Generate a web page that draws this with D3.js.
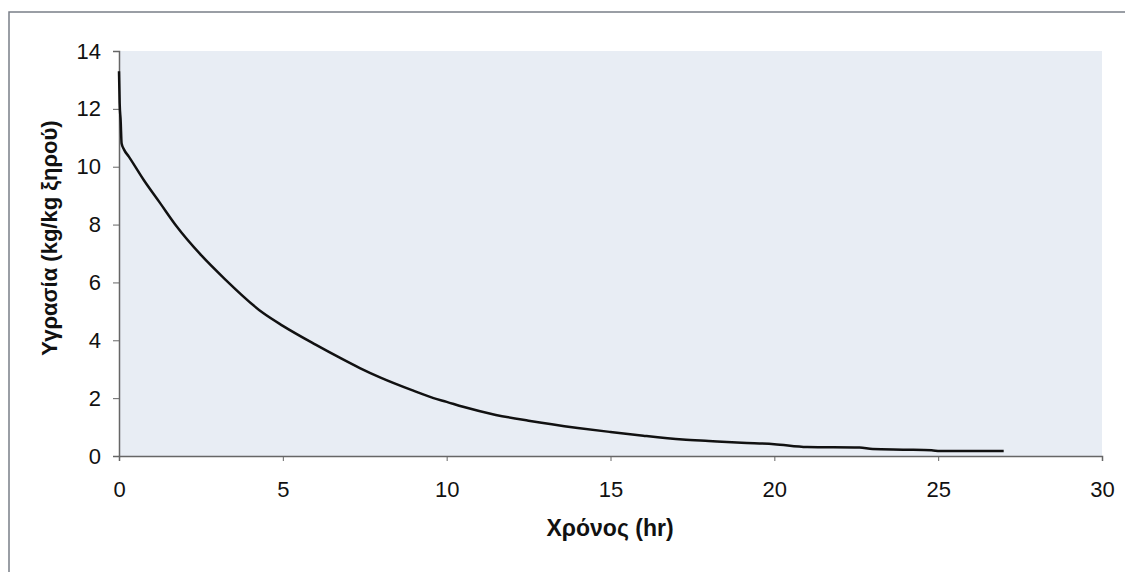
<!DOCTYPE html>
<html>
<head>
<meta charset="utf-8">
<script src="https://cdn.jsdelivr.net/npm/d3@7"></script>
<style>
    body { margin: 0; background: #fff; }
    .tick text { font-family: "Liberation Sans", Arial, sans-serif; font-size: 22px; fill: #111; }
    .axis path, .axis line { stroke: #666; }
    .title { font-family: "Liberation Sans", Arial, sans-serif; font-weight: bold; fill: #111; }
</style>
</head>
<body>
<div id="chart"></div>
<script>
// time (hr) and moisture (kg/kg dry basis)
const hours = [0, 0.02, 0.05, 0.08, 0.15, 0.3, 0.75, 1.25, 1.75, 2.5, 3.2, 4.4, 5, 6, 6.75, 7.35, 8, 9, 9.6, 10,
    10.5, 11.5, 12.5, 14, 15, 16, 17.2, 18, 19, 20, 21, 22.6, 23, 24, 24.8, 25.05, 26, 27]
const moisture = [13.3, 12.2, 11.6, 10.8, 10.6, 10.35, 9.55, 8.75, 7.95, 6.95, 6.15, 4.94, 4.5, 3.85, 3.39, 3.04, 2.7, 2.25, 2.0, 1.87,
    1.7, 1.42, 1.22, 0.97, 0.83, 0.7, 0.57, 0.52, 0.46, 0.41, 0.31, 0.29, 0.24, 0.22, 0.2, 0.17, 0.17, 0.17]
const xTicks = [0, 5, 10, 15, 20, 25, 30]
const yTicks = [0, 2, 4, 6, 8, 10, 12, 14]

const W = 1125, H = 572
const margin = {left: 119, top: 51, right: 23, bottom: 116}
const width = W - margin.left - margin.right,
      height = H - margin.top - margin.bottom

const svg = d3.select('#chart').append('svg')
    .attr('width', W)
    .attr('height', H)

// scanned page frame
svg.append('path')
    .attr('d', `M9,${H} V12 H${W}`)
    .attr('fill', 'none')
    .attr('stroke', '#7a7f88')
    .attr('stroke-width', 1.5)

const chart = svg.append('g')
    .attr('transform', `translate(${margin.left},${margin.top})`)

chart.append('rect')
    .attr('width', width)
    .attr('height', height)
    .attr('fill', '#e8edf4')

const xScale = d3.scaleLinear().domain([0, 30]).range([0, width])
const yScale = d3.scaleLinear().domain([0, 14]).range([height, 0])

chart.append('g')
    .attr('class', 'axis')
    .call(d3.axisLeft(yScale).tickValues(yTicks).tickSize(6).tickPadding(12).tickFormat(d3.format('d')))

chart.append('g')
    .attr('class', 'axis')
    .attr('transform', `translate(0,${height})`)
    .call(d3.axisBottom(xScale).tickValues(xTicks).tickSize(5).tickPadding(20).tickFormat(d3.format('d')))

chart.selectAll('.axis .domain').attr('stroke-width', 1.5)

const points = hours.map((h, i) => ({h: h, m: moisture[i]}))
const line = d3.line()
    .x(d => xScale(d.h))
    .y(d => yScale(d.m))
    .curve(d3.curveMonotoneX)

chart.append('path')
    .datum(points)
    .attr('fill', 'none')
    .attr('stroke', '#111')
    .attr('stroke-width', 2.5)
    .attr('d', line)

// x axis title
svg.append('text')
    .attr('class', 'title')
    .attr('x', 610)
    .attr('y', 536)
    .attr('font-size', 23)
    .attr('text-anchor', 'middle')
    .text('Χρόνος (hr)')

// y axis title
svg.append('text')
    .attr('class', 'title')
    .attr('font-size', 22)
    .attr('transform', `translate(57,238) rotate(-90)`)
    .attr('text-anchor', 'middle')
    .text('Υγρασία (kg/kg ξηρού)')
</script>
</body>
</html>
